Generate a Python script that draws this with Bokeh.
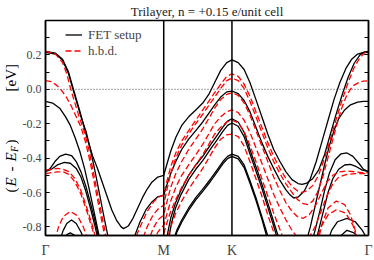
from math import pi
from bokeh.plotting import figure
from bokeh.layouts import row
from bokeh.models import (Span, Label, FixedTicker, PrintfTickFormatter, LinearAxis,
                          Range1d, Legend, LegendItem, CustomJSTickFormatter)
from bokeh.embed import file_html
from bokeh.resources import INLINE

# ---- k-path and axis ticks ----
kpath_ticks = [0.0, 1.0, 1.577, 2.732]
kpath_labels = ["Γ", "M", "K", "Γ"]
energy_ticks = [-0.8, -0.6, -0.4, -0.2, 0.0, 0.2]
energy_minor = [-0.8, -0.7, -0.6, -0.5, -0.4, -0.3, -0.2, -0.1, 0.0, 0.1, 0.2, 0.3]

# ---- FET setup bands (k, E) ----
fet_1 = [(0, .22), (.085, .21), (.144, .175), (.195, .10), (.228, .02), (.262, -.06), (.296, -.14),
         (.33, -.23), (.364, -.31), (.40, -.39), (.44, -.46), (.48, -.54), (.52, -.62), (.56, -.70),
         (.60, -.76), (.64, -.80), (.66, -.81), (.70, -.795), (.74, -.75), (.78, -.69), (.82, -.63),
         (.86, -.58), (.90, -.54), (.95, -.51), (1.0, -.50),
         (1.025, -.44), (1.059, -.36), (1.102, -.28), (1.152, -.21), (1.211, -.16), (1.271, -.12),
         (1.33, -.08), (1.381, -.03), (1.431, .04), (1.482, .11), (1.533, .155), (1.577, .171),
         (1.63, .155), (1.68, .115), (1.729, .04), (1.78, -.06), (1.83, -.16), (1.88, -.26),
         (1.93, -.35), (1.983, -.42), (2.034, -.48), (2.085, -.525), (2.136, -.548), (2.17, -.553),
         (2.21, -.545), (2.26, -.52), (2.31, -.47), (2.36, -.38), (2.41, -.26), (2.46, -.14),
         (2.51, -.03), (2.56, .07), (2.61, .15), (2.66, .20), (2.70, .218), (2.732, .22)]
fet_2 = [(0, .215), (.085, .205), (.144, .17), (.195, .09), (.228, .01), (.262, -.07), (.30, -.16),
         (.345, -.25), (.38, -.35), (.42, -.48), (.46, -.62), (.50, -.76), (.53, -.86), (.56, -.95)]
fet_3 = [(0, -.07), (.06, -.08), (.12, -.11), (.17, -.16), (.21, -.21), (.25, -.28), (.29, -.36),
         (.33, -.46), (.37, -.58), (.41, -.71), (.45, -.84), (.48, -.94)]
fet_4 = [(.70, -.95), (.75, -.86), (.80, -.77), (.85, -.70), (.90, -.655), (.95, -.625), (1.0, -.615),
         (1.025, -.56), (1.059, -.49), (1.102, -.42), (1.152, -.35), (1.211, -.29), (1.271, -.24),
         (1.33, -.19), (1.381, -.14), (1.431, -.09), (1.482, -.045), (1.533, -.015), (1.577, -.01),
         (1.63, -.025), (1.68, -.065), (1.729, -.13), (1.78, -.22), (1.83, -.31), (1.88, -.39),
         (1.93, -.46), (1.983, -.53), (2.034, -.585), (2.07, -.615), (2.10, -.632), (2.14, -.625),
         (2.19, -.59), (2.24, -.52), (2.29, -.42), (2.34, -.30), (2.39, -.18), (2.44, -.06),
         (2.49, .04), (2.54, .12), (2.59, .175), (2.64, .205), (2.69, .215), (2.732, .215)]
fet_5 = [(1.02, -.90), (1.035, -.83), (1.059, -.75), (1.10, -.66), (1.144, -.59), (1.211, -.50),
         (1.271, -.44), (1.33, -.39), (1.398, -.32), (1.45, -.27), (1.50, -.22), (1.54, -.185),
         (1.577, -.171), (1.63, -.19), (1.68, -.25), (1.729, -.35), (1.78, -.45), (1.83, -.55),
         (1.88, -.66), (1.93, -.77), (1.98, -.88), (2.01, -.95)]
fet_6 = [(1.03, -.93), (1.045, -.86), (1.065, -.78), (1.10, -.69), (1.144, -.615), (1.211, -.525),
         (1.271, -.465), (1.33, -.415), (1.398, -.345), (1.45, -.295), (1.50, -.245), (1.54, -.21),
         (1.577, -.196), (1.63, -.215), (1.68, -.275), (1.729, -.375), (1.78, -.475), (1.83, -.575),
         (1.88, -.685), (1.93, -.795), (1.97, -.89), (2.00, -.95)]
fet_7 = [(1.06, -.93), (1.08, -.88), (1.11, -.82), (1.152, -.76), (1.211, -.69), (1.271, -.63),
         (1.33, -.58), (1.398, -.52), (1.45, -.47), (1.50, -.42), (1.54, -.39), (1.577, -.377),
         (1.63, -.39), (1.68, -.44), (1.729, -.53), (1.78, -.63), (1.83, -.74), (1.87, -.83), (1.90, -.90)]
fet_8 = [(1.065, -.94), (1.085, -.89), (1.11, -.833), (1.152, -.773), (1.211, -.703), (1.271, -.643),
         (1.33, -.593), (1.398, -.533), (1.45, -.483), (1.50, -.433), (1.54, -.403), (1.577, -.39),
         (1.63, -.405), (1.68, -.455), (1.729, -.545), (1.78, -.645), (1.83, -.755), (1.865, -.84),
         (1.89, -.90)]
fet_9 = [(0, -.478), (.04, -.46), (.08, -.42), (.12, -.39), (.17, -.377), (.22, -.385), (.26, -.42),
         (.30, -.48), (.34, -.56), (.38, -.66), (.42, -.77), (.46, -.89)]
fet_10 = [(0, -.478), (.05, -.465), (.10, -.44), (.16, -.425), (.21, -.43), (.26, -.46), (.30, -.51),
          (.34, -.59), (.38, -.69), (.42, -.80), (.45, -.89)]
fet_11 = [(2.20, -.90), (2.24, -.80), (2.28, -.68), (2.32, -.56), (2.36, -.44), (2.40, -.33),
          (2.44, -.24), (2.48, -.17), (2.53, -.12), (2.58, -.09), (2.64, -.075), (2.69, -.07), (2.732, -.07)]
fet_12 = [(2.24, -.92), (2.28, -.82), (2.32, -.71), (2.36, -.59), (2.40, -.49), (2.45, -.41),
          (2.50, -.375), (2.55, -.37), (2.60, -.39), (2.65, -.43), (2.69, -.465), (2.732, -.478)]
fet_13 = [(2.27, -.93), (2.31, -.82), (2.35, -.71), (2.39, -.60), (2.43, -.52), (2.48, -.465),
          (2.53, -.44), (2.58, -.437), (2.63, -.45), (2.68, -.47), (2.732, -.478)]
fet_14 = [(.12, -.88), (.15, -.82), (.18, -.78), (.22, -.76), (.26, -.78), (.30, -.83), (.33, -.88)]
fet_15 = [(.14, -.88), (.18, -.845), (.21, -.835), (.25, -.85), (.28, -.88)]
fet_16 = [(2.38, -.90), (2.42, -.82), (2.47, -.77), (2.55, -.75), (2.62, -.77), (2.68, -.82), (2.72, -.87)]
fet_17 = [(2.46, -.90), (2.50, -.85), (2.55, -.82), (2.61, -.835), (2.66, -.88)]

# ---- h.b.d. bands (k, E) ----
hbd_1 = [(0, .22), (.085, .205), (.144, .155), (.18, .09), (.21, .01), (.24, -.06), (.28, -.15),
         (.33, -.25), (.37, -.36), (.41, -.50), (.45, -.64), (.49, -.78), (.52, -.88), (.55, -.97)]
hbd_2 = [(0, .05), (.05, .045), (.10, .02), (.14, -.01), (.18, -.05), (.22, -.10), (.26, -.16),
         (.30, -.22), (.34, -.31), (.38, -.43), (.42, -.57), (.46, -.71), (.50, -.85), (.53, -.95)]
hbd_3 = [(0, -.47), (.05, -.465), (.10, -.46), (.15, -.465), (.20, -.48), (.25, -.52), (.30, -.59),
         (.35, -.69), (.40, -.80), (.44, -.91)]
hbd_4 = [(0, -.49), (.05, -.485), (.10, -.48), (.15, -.48), (.20, -.495), (.25, -.54), (.30, -.61),
         (.35, -.71), (.40, -.82), (.44, -.93)]
hbd_5 = [(.08, -.88), (.11, -.80), (.15, -.74), (.21, -.71), (.27, -.735), (.32, -.80), (.36, -.88)]
hbd_6 = [(.74, -.90), (.80, -.80), (.86, -.71), (.92, -.65), (.96, -.625), (1.0, -.615),
         (1.025, -.54), (1.059, -.45), (1.102, -.37), (1.152, -.30), (1.211, -.24), (1.271, -.18),
         (1.33, -.12), (1.381, -.07), (1.431, -.02), (1.482, .03), (1.533, .075), (1.577, .09),
         (1.63, .075), (1.68, .03), (1.729, -.04), (1.78, -.13), (1.83, -.22), (1.88, -.31),
         (1.93, -.39), (1.983, -.46), (2.034, -.52), (2.085, -.565), (2.13, -.59), (2.17, -.60),
         (2.21, -.59), (2.26, -.56), (2.31, -.50), (2.36, -.40), (2.41, -.29), (2.46, -.17),
         (2.51, -.06), (2.56, .04), (2.61, .125), (2.66, .185), (2.70, .212), (2.732, .22)]
hbd_7 = [(.80, -.91), (.86, -.80), (.91, -.73), (.96, -.69), (1.0, -.675),
         (1.025, -.59), (1.059, -.49), (1.102, -.40), (1.152, -.325), (1.211, -.26), (1.271, -.20),
         (1.33, -.145), (1.381, -.095), (1.431, -.045), (1.482, .005), (1.533, .05), (1.577, .065),
         (1.63, .05), (1.68, .005), (1.729, -.07), (1.78, -.16), (1.83, -.25), (1.88, -.34),
         (1.93, -.42), (1.983, -.49), (2.034, -.55), (2.085, -.60), (2.13, -.64), (2.18, -.665),
         (2.22, -.67), (2.26, -.65), (2.30, -.60), (2.35, -.50), (2.40, -.37), (2.45, -.24),
         (2.50, -.12), (2.55, -.03), (2.60, .02), (2.65, .04), (2.69, .048), (2.732, .05)]
hbd_8 = [(.86, -.90), (.91, -.81), (.95, -.76), (1.0, -.73),
         (1.025, -.66), (1.059, -.57), (1.102, -.49), (1.152, -.42), (1.211, -.35), (1.271, -.29),
         (1.33, -.23), (1.381, -.17), (1.431, -.11), (1.482, -.06), (1.533, -.03), (1.577, -.02),
         (1.63, -.035), (1.68, -.08), (1.729, -.15), (1.78, -.24), (1.83, -.33), (1.88, -.42),
         (1.93, -.51), (1.983, -.59), (2.034, -.66), (2.085, -.71), (2.13, -.74), (2.18, -.75),
         (2.23, -.73), (2.28, -.68), (2.33, -.61), (2.38, -.54), (2.43, -.50), (2.48, -.48),
         (2.55, -.475), (2.62, -.48), (2.68, -.485), (2.732, -.485)]
hbd_9 = [(.91, -.89), (.95, -.83), (1.0, -.79),
         (1.025, -.73), (1.059, -.65), (1.102, -.57), (1.152, -.50), (1.211, -.44), (1.271, -.38),
         (1.33, -.32), (1.381, -.26), (1.431, -.20), (1.482, -.16), (1.533, -.13), (1.577, -.12),
         (1.63, -.135), (1.68, -.18), (1.729, -.25), (1.78, -.34), (1.83, -.43), (1.88, -.52),
         (1.93, -.61), (1.983, -.69), (2.034, -.76), (2.085, -.82), (2.13, -.86), (2.18, -.88),
         (2.23, -.86), (2.28, -.80), (2.33, -.71), (2.38, -.62), (2.43, -.55), (2.48, -.51),
         (2.55, -.495), (2.62, -.49), (2.68, -.49), (2.732, -.49)]
hbd_10 = [(1.0, -.84), (1.025, -.78), (1.059, -.71), (1.102, -.64), (1.152, -.57), (1.211, -.50),
          (1.271, -.44), (1.33, -.38), (1.381, -.32), (1.431, -.26), (1.482, -.22), (1.533, -.19),
          (1.577, -.18), (1.63, -.195), (1.68, -.245), (1.729, -.325), (1.78, -.42), (1.83, -.52),
          (1.88, -.62), (1.93, -.72), (1.98, -.81), (2.03, -.90)]
hbd_11 = [(1.02, -.90), (1.059, -.80), (1.102, -.72), (1.152, -.65), (1.211, -.58), (1.271, -.52),
          (1.33, -.46), (1.381, -.40), (1.431, -.34), (1.482, -.29), (1.533, -.265), (1.577, -.26),
          (1.63, -.275), (1.68, -.33), (1.729, -.42), (1.78, -.52), (1.83, -.62), (1.88, -.73),
          (1.93, -.83), (1.97, -.91)]
hbd_12 = [(2.30, -.90), (2.34, -.78), (2.39, -.69), (2.46, -.65), (2.53, -.67), (2.58, -.73),
          (2.62, -.82), (2.65, -.90)]
hbd_13 = [(2.28, -.90), (2.33, -.80), (2.39, -.73), (2.46, -.70), (2.54, -.72), (2.60, -.79), (2.64, -.88)]

fet_bands = [fet_1, fet_2, fet_3, fet_4, fet_5, fet_6, fet_7, fet_8, fet_9, fet_10, fet_11,
             fet_12, fet_13, fet_14, fet_15, fet_16, fet_17]
hbd_bands = [hbd_1, hbd_2, hbd_3, hbd_4, hbd_5, hbd_6, hbd_7, hbd_8, hbd_9, hbd_10, hbd_11,
             hbd_12, hbd_13]

title_text = "Trilayer, n = +0.15 e/unit cell"
FONT = "Liberation Serif"
LAB_W = 19

p = figure(width=374 - LAB_W, height=260, output_backend="svg", toolbar_location=None,
           x_range=Range1d(kpath_ticks[0], kpath_ticks[-1]), y_range=Range1d(-0.85, 0.4),
           min_border_left=45 - LAB_W, min_border_right=6, min_border_top=20, min_border_bottom=24)
p.grid.visible = False
p.outline_line_color = "black"
p.outline_line_width = 1.5
p.background_fill_color = "white"
p.border_fill_color = "white"

p.title.text = title_text
p.title.align = "center"
p.title.vertical_align = "top"
p.title.standoff = 0
p.title.text_font = FONT
p.title.text_font_size = "13px"
p.title.text_font_style = "normal"
p.title.text_color = "#222222"

# left axis
ya = p.yaxis[0]
ya.ticker = FixedTicker(ticks=energy_ticks, minor_ticks=energy_minor)
ya.formatter = PrintfTickFormatter(format="%.1f")
ya.major_tick_in = 4
ya.major_tick_out = 0
ya.minor_tick_in = 4
ya.minor_tick_out = 0
ya.axis_line_width = 1.5
ya.major_label_text_font = FONT
ya.major_label_text_font_size = "12px"
ya.major_label_standoff = 4

# right axis (ticks only)
ra = LinearAxis(ticker=FixedTicker(ticks=energy_ticks, minor_ticks=energy_minor),
                formatter=CustomJSTickFormatter(code="return ''"))
ra.major_tick_in = 4
ra.major_tick_out = 0
ra.minor_tick_in = 4
ra.minor_tick_out = 0
ra.axis_line_width = 1.5
ra.major_label_standoff = 0
ra.major_label_text_font_size = "1px"
p.add_layout(ra, "right")

# bottom axis
xa = p.xaxis[0]
xa.ticker = FixedTicker(ticks=kpath_ticks)
xa.major_label_overrides = {t: l for t, l in zip(kpath_ticks, kpath_labels)}
xa.major_tick_in = 0
xa.major_tick_out = 0
xa.minor_tick_in = 0
xa.minor_tick_out = 0
xa.axis_line_width = 1.5
xa.major_label_text_font = FONT
xa.major_label_text_font_size = "14px"
xa.major_label_standoff = 7

# high-symmetry lines and Fermi level
for t in kpath_ticks[1:-1]:
    p.add_layout(Span(location=t, dimension="height", line_color="black", line_width=1.5))
p.add_layout(Span(location=0.0, dimension="width", line_color="#444444", line_width=1,
                  line_dash="1 2"))

fet_r = p.multi_line(xs=[[k for k, e in b] for b in fet_bands],
                     ys=[[e for k, e in b] for b in fet_bands],
                     line_color="black", line_width=1.3, line_join="round")
hbd_r = p.multi_line(xs=[[k for k, e in b] for b in hbd_bands],
                     ys=[[e for k, e in b] for b in hbd_bands],
                     line_color="#ff0000", line_width=1.3, line_dash="6 3", line_join="round")

legend = Legend(items=[LegendItem(label="FET setup", renderers=[fet_r]),
                       LegendItem(label="h.b.d.", renderers=[hbd_r])],
                location=(15, 171.5), padding=5, margin=0, spacing=0,
                glyph_width=17, glyph_height=15, label_height=15, label_standoff=6,
                label_text_font=FONT, label_text_font_size="13px",
                border_line_alpha=0, background_fill_alpha=0)
p.add_layout(legend, "center")

# narrow strip on the left carrying the rotated y-axis title: (E - E_F)  [eV]
lab = figure(width=LAB_W, height=260, output_backend="svg", toolbar_location=None,
             x_range=Range1d(0, LAB_W), y_range=Range1d(0, 260), x_axis_type=None, y_axis_type=None,
             min_border=0, min_border_left=0, min_border_right=0, min_border_top=0, min_border_bottom=0)
lab.grid.visible = False
lab.outline_line_color = None
lab.background_fill_color = "white"
lab.border_fill_color = "white"

ylab = [("(", 43, "normal", "15px", 0), ("E", 49, "italic", "15px", 0), ("-", 64, "normal", "15px", 0),
        ("E", 74, "italic", "15px", 0), ("F", 83.5, "italic", "10px", 3), (")", 91, "normal", "15px", 0),
        ("[eV]", 144, "normal", "15px", 0)]
for txt, yy, style, size, dx in ylab:
    lab.add_layout(Label(x=10.5 + dx, y=yy, x_units="screen", y_units="screen", text=txt, angle=pi / 2,
                         text_align="left", text_baseline="middle", text_font=FONT,
                         text_font_style=style, text_font_size=size, text_color="black"))

open("out.html", "w").write(file_html(row(lab, p, spacing=0), INLINE))
